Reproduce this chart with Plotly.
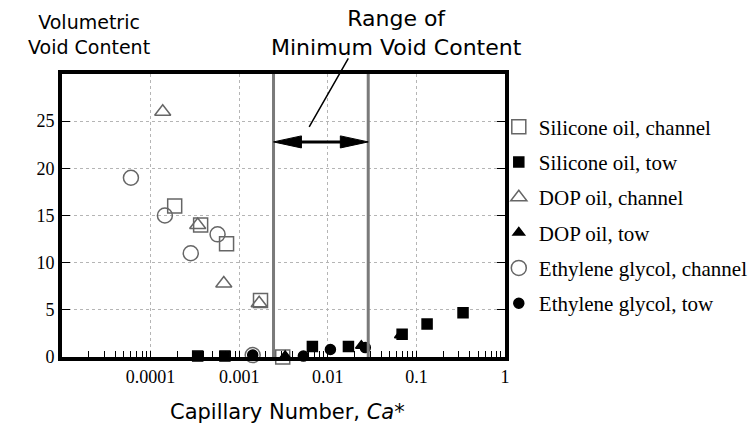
import plotly.graph_objects as go

# ---- data ----
sil_ch_x = [1.87e-4, 3.67e-4, 7.2e-4, 1.74e-3, 3.1e-3]
sil_ch_y = [16, 14, 12, 6, 0]
sil_tow_x = [3.4e-4, 6.9e-4, 6.7e-3, 0.0171, 0.069, 0.132, 0.336]
sil_tow_y = [0.1, 0.1, 1.1, 1.1, 2.4, 3.5, 4.7]
dop_ch_x = [1.37e-4, 3.4e-4, 6.7e-4, 1.68e-3]
dop_ch_y = [26, 14, 7.8, 5.7]
dop_tow_x = [3.3e-3, 0.0239, 0.0658]
dop_tow_y = [0.1, 1.2, 2.3]
eg_ch_x = [6.0e-5, 1.45e-4, 2.84e-4, 5.7e-4, 1.42e-3]
eg_ch_y = [19, 15, 11, 13, 0.2]
eg_tow_x = [1.42e-3, 5.3e-3, 0.0107, 0.0265]
eg_tow_y = [0.2, 0.1, 0.8, 1.0]

x_tickvals = [1e-4, 1e-3, 1e-2, 1e-1, 1]
x_ticktext = ["0.0001", "0.001", "0.01", "0.1", "1"]
y_tickvals = [0, 5, 10, 15, 20, 25]

range_lo = 0.00244
range_hi = 0.0286
arrow_y = 22.8

OPEN = "#666666"
SERIF = "Liberation Serif, Times New Roman, serif"
SANS = "DejaVu Sans, sans-serif"

series = [
    ("Silicone oil, channel", sil_ch_x, sil_ch_y, "square-open", 14, OPEN),
    ("Silicone oil, tow", sil_tow_x, sil_tow_y, "square", 10, "black"),
    ("DOP oil, channel", dop_ch_x, dop_ch_y, "triangle-up-open", 14, OPEN),
    ("DOP oil, tow", dop_tow_x, dop_tow_y, "triangle-up", 10, "black"),
    ("Ethylene glycol, channel", eg_ch_x, eg_ch_y, "circle-open", 15, OPEN),
    ("Ethylene glycol, tow", eg_tow_x, eg_tow_y, "circle", 10, "black"),
]

fig = go.Figure()
for i, (name, xs, ys, sym, sz, col) in enumerate(series):
    fig.add_trace(go.Scatter(
        x=xs, y=ys, mode="markers", name=name, legendgroup=f"g{i}",
        cliponaxis=False,
        marker=dict(symbol=sym, size=sz, color=col,
                    line=dict(width=1.5, color=col)),
    ))

# vertical range lines
for xv in (range_lo, range_hi):
    fig.add_shape(type="line", x0=xv, x1=xv, y0=0, y1=30, xref="x", yref="y",
                  line=dict(color="#7a7a7a", width=3))

# double arrow
head_len = 10 ** 0.315
head_h = 0.64
fig.add_shape(type="line", x0=range_lo * 1.3, x1=range_hi / 1.3, y0=arrow_y, y1=arrow_y,
              xref="x", yref="y", line=dict(color="black", width=3))
fig.add_shape(type="path", xref="x", yref="y",
              path=f"M {range_lo},{arrow_y} L {range_lo*head_len},{arrow_y+head_h} "
                   f"L {range_lo*head_len},{arrow_y-head_h} Z",
              fillcolor="black", line=dict(color="black", width=1))
fig.add_shape(type="path", xref="x", yref="y",
              path=f"M {range_hi},{arrow_y} L {range_hi/head_len},{arrow_y+head_h} "
                   f"L {range_hi/head_len},{arrow_y-head_h} Z",
              fillcolor="black", line=dict(color="black", width=1))

# leader line from the arrow to the label
fig.add_annotation(x=-2.21, y=24.4, xref="x", yref="y", text="", showarrow=True,
                   arrowhead=0, arrowwidth=1.5, arrowcolor="black", ax=40, ay=-70)

fig.add_annotation(text="Volumetric<br>Void Content", xref="paper", yref="paper",
                   x=0.06, y=1.14, xanchor="center", yanchor="middle", showarrow=False,
                   font=dict(family=SANS, size=19, color="black"))
fig.add_annotation(text="Range of<br>Minimum Void Content", xref="paper", yref="paper",
                   x=0.754, y=1.145, xanchor="center", yanchor="middle", showarrow=False,
                   font=dict(family=SANS, size=22, color="black"))
fig.add_annotation(text="Capillary Number, <i>Ca*</i>", xref="paper", yref="paper",
                   x=0.51, y=-0.193, xanchor="center", yanchor="middle", showarrow=False,
                   font=dict(family=SANS, size=21, color="black"))

fig.update_xaxes(
    type="log", range=[-5, 0],
    tickmode="array", tickvals=x_tickvals, ticktext=x_ticktext,
    ticks="inside", ticklen=6, tickcolor="black",
    showline=True, linewidth=4, linecolor="black", mirror=True,
    showgrid=True, gridcolor="#b5b5b5", griddash="dot", gridwidth=1,
    zeroline=False,
    tickfont=dict(family=SERIF, size=18, color="black"),
    minor=dict(dtick="D1", ticks="inside", ticklen=6, tickcolor="black", showgrid=False),
)
fig.update_yaxes(
    range=[0, 30], tickmode="array", tickvals=y_tickvals,
    ticks="inside", ticklen=8, tickcolor="black",
    showline=True, linewidth=4, linecolor="black", mirror="ticks",
    showgrid=True, gridcolor="#b5b5b5", griddash="dot", gridwidth=1,
    zeroline=False,
    tickfont=dict(family=SERIF, size=18, color="black"),
)

fig.update_layout(
    width=755, height=426,
    margin=dict(l=62, r=250, t=74, b=69, autoexpand=False),
    paper_bgcolor="white", plot_bgcolor="white",
    showlegend=True,
    legend=dict(x=0.986, xanchor="left", y=0.885, yanchor="top",
                tracegroupgap=5, bgcolor="rgba(0,0,0,0)",
                font=dict(family=SERIF, size=21, color="black")),
)

fig.write_html("out.html", config={"displayModeBar": False},
               post_script="document.body.style.margin='0';document.body.style.overflow='hidden';")
